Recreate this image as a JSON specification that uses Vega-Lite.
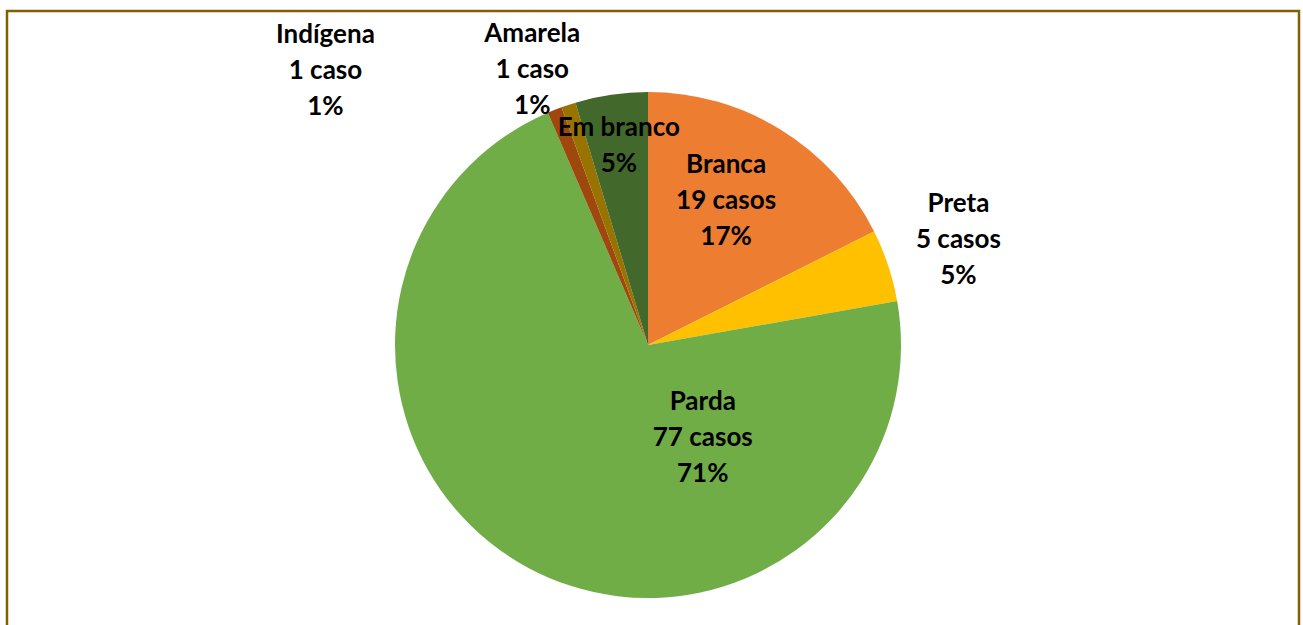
{
  "$schema": "https://vega.github.io/schema/vega-lite/v6.json",
  "width": 1303,
  "height": 625,
  "autosize": {"type": "fit", "contains": "padding"},
  "padding": {"left": 5, "top": 9, "right": 2, "bottom": -10},
  "background": "white",
  "config": {"view": {"stroke": null}},
  "data": {
    "values": [
      {"categoria": "Branca", "casos": 19, "ordem": 1, "rotulo": "Branca\n19 casos\n17%"},
      {"categoria": "Preta", "casos": 5, "ordem": 2, "rotulo": "Preta\n5 casos\n5%"},
      {"categoria": "Parda", "casos": 77, "ordem": 3, "rotulo": "Parda\n77 casos\n71%"},
      {"categoria": "Indígena", "casos": 1, "ordem": 4, "rotulo": "Indígena\n1 caso\n1%"},
      {"categoria": "Amarela", "casos": 1, "ordem": 5, "rotulo": "Amarela\n1 caso\n1%"},
      {"categoria": "Em branco", "casos": 5, "ordem": 6, "rotulo": "Em branco\n5%"}
    ]
  },
  "layer": [
    {
      "data": {"values": [{"moldura": 1}]},
      "mark": {"type": "rect", "fill": null, "stroke": "#806000", "strokeWidth": 2.5},
      "encoding": {}
    },
    {
      "mark": {"type": "arc", "outerRadius": 253, "x": {"expr": "width/2-5"}, "y": {"expr": "height/2+23"}},
      "encoding": {
        "theta": {"field": "casos", "type": "quantitative", "stack": true},
        "order": {"field": "ordem", "type": "quantitative"},
        "color": {
          "field": "categoria",
          "type": "nominal",
          "scale": {
            "domain": ["Branca", "Preta", "Parda", "Indígena", "Amarela", "Em branco"],
            "range": ["#ED7D31", "#FFC000", "#70AD47", "#9E480E", "#997300", "#43682B"]
          },
          "legend": null
        }
      }
    },
    {
      "mark": {
        "type": "text",
        "x": {"expr": "width/2-5"},
        "y": {"expr": "height/2+23"},
        "font": "Lato",
        "fontWeight": "bold",
        "fontSize": 26,
        "lineHeight": 36,
        "lineBreak": "\n",
        "align": "center",
        "baseline": "middle",
        "color": "black",
        "radius": {"expr": "datum.categoria=='Branca'?164:datum.categoria=='Preta'?327:datum.categoria=='Parda'?108:datum.categoria=='Indígena'?424:datum.categoria=='Amarela'?298:201"},
        "dx": {"expr": "datum.categoria=='Branca'?-8:datum.categoria=='Parda'?106:datum.categoria=='Indígena'?-166:datum.categoria=='Amarela'?-22:0"},
        "dy": {"expr": "datum.categoria=='Branca'?-40:datum.categoria=='Preta'?-38:datum.categoria=='Parda'?-38:datum.categoria=='Indígena'?84:datum.categoria=='Amarela'?-28:-18"}
      },
      "encoding": {
        "theta": {"field": "casos", "type": "quantitative", "stack": true},
        "order": {"field": "ordem", "type": "quantitative"},
        "text": {"field": "rotulo", "type": "nominal"}
      }
    }
  ]
}
